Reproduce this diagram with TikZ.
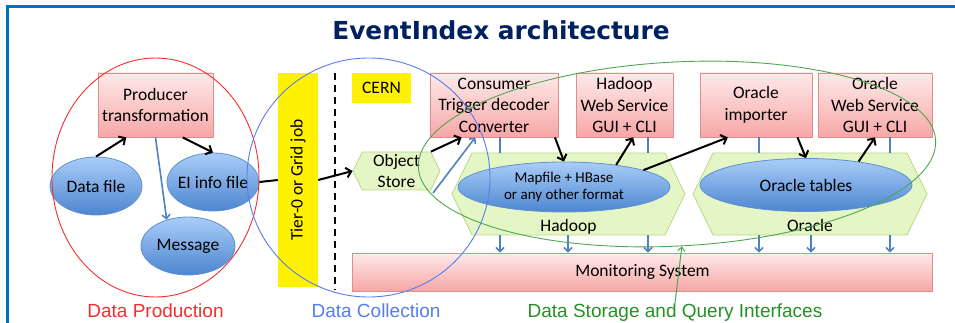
\documentclass[tikz,border=0pt]{standalone}
\usepackage{fontspec}
\setmainfont{Carlito}
\newfontfamily\arialfont{Liberation Sans}
\newfontfamily\titlefont{DejaVu Sans}
\usetikzlibrary{arrows.meta,shapes.geometric,shapes.symbols}
\definecolor{framecol}{RGB}{0,112,192}
\definecolor{titlenavy}{RGB}{0,32,96}
\definecolor{pinktop}{RGB}{255,234,234}
\definecolor{pinkbot}{RGB}{247,166,166}
\definecolor{pinkline}{RGB}{222,140,140}
\definecolor{bluetop}{RGB}{170,205,248}
\definecolor{bluebot}{RGB}{76,134,208}
\definecolor{blueline}{RGB}{95,145,205}
\definecolor{hexfill}{RGB}{228,246,198}
\definecolor{hexline}{RGB}{185,214,135}
\definecolor{steel}{RGB}{79,129,189}
\definecolor{prodred}{RGB}{245,45,45}
\definecolor{collblue}{RGB}{85,125,240}
\definecolor{storgreen}{RGB}{35,145,35}

\begin{document}
\begin{tikzpicture}[x=1pt,y=-1pt,
    every node/.style={font=\fontsize{17.5}{21.5}\selectfont,inner sep=0pt,align=center},
    pbox/.style={draw=pinkline,line width=0.8,top color=pinktop,bottom color=pinkbot,minimum height=64},
    bubble/.style={ellipse,draw=blueline,line width=0.8,top color=bluetop,bottom color=bluebot,inner xsep=-5pt},
    hexa/.style={signal,signal to=west and east,signal pointer angle=128,draw=hexline,line width=0.8,fill=hexfill},
    ybox/.style={fill=yellow},
    group/.style={ellipse,draw,line width=0.9},
    grouplbl/.style={font=\arialfont\fontsize{19}{22}\selectfont,anchor=base},
    arr/.style={line width=2,-{Straight Barb[length=5pt,width=10pt]}},
    link/.style={steel,line width=1.6},
    downarr/.style={link,-{Straight Barb[length=4pt,width=8pt]}}]
  \useasboundingbox (0,0) rectangle (955,323);
  \draw[framecol,line width=3] (7,330) -- (7,7) -- (960,7);
  \node[font=\titlefont\bfseries\fontsize{24.8}{30}\selectfont,text=titlenavy,anchor=base] (title) at (501,40) {EventIndex architecture};

  \node[pbox,minimum width=115] (producer) at (155.5,105) {Producer\\transformation};
  \node[bubble,minimum width=92,minimum height=58] (dfile) at (96,186) {Data file};
  \node[bubble,minimum width=92,minimum height=58] (eifile) at (213,182) {EI info file};
  \node[bubble,minimum width=94,minimum height=58] (message) at (188,246) {Message};

  \node[ybox,minimum width=40,minimum height=214] (tier) at (298,180) {};
  \node[rotate=90] (tierlbl) at (tier.center) {Tier-0 or Grid job};
  \coordinate (septop) at (335,73);
  \coordinate (sepbot) at (335,290);
  \draw[line width=2,dash pattern=on 7pt off 5pt] (septop) -- (sepbot);
  \node[ybox,minimum width=59,minimum height=30] (cern) at (381.5,88) {CERN};
  \node[hexa,minimum width=87,minimum height=38] (objstore) at (396.5,171) {Object\\Store};

  \node[pbox,minimum width=128] (consumer) at (494,105) {Consumer\\Trigger decoder\\Converter};
  \node[pbox,minimum width=97] (hadoopws) at (624.5,105) {Hadoop\\Web Service\\GUI + CLI};
  \node[pbox,minimum width=112] (oimport) at (756,105) {Oracle\\importer};
  \node[pbox,minimum width=114] (oraclews) at (875,105) {Oracle\\Web Service\\GUI + CLI};

  \node[hexa,minimum width=233,minimum height=82] (hadoop) at (568.5,194) {};
  \node[anchor=base] (hadooplbl) at (568.5,231) {Hadoop};
  \node[hexa,minimum width=234,minimum height=82] (oracle) at (810,194) {};
  \node[anchor=base] (oraclelbl) at (810,231) {Oracle};
  \node[bubble,minimum width=212,minimum height=50,font=\fontsize{15}{17.5}\selectfont] (mapfile) at (564,187) {Mapfile + HBase\\or any other format};
  \node[bubble,minimum width=212,minimum height=53] (otables) at (806,185) {Oracle tables};
  \node[pbox,minimum width=580,minimum height=38] (monitor) at (642.5,272) {Monitoring System};

  \draw[arr] (dfile.north) -- (producer.228);
  \draw[arr] (producer.-50) -- (eifile.north);
  \draw[downarr] (producer.south) -- (message.129);
  \draw[line width=2] (eifile.east) -- (tier.west);
  \draw[arr] (tier.east) -- (objstore.west);
  \draw[arr] (objstore.north east) -- (consumer.225);
  \coordinate (gridin) at (433,193);
  \draw[downarr] (gridin) -- (consumer.240);
  \draw[arr] (consumer.-28) -- (mapfile.north);
  \draw[arr] (mapfile.23) -- (hadoopws.-75);
  \draw[arr] (mapfile.12) -- (oimport.229);
  \draw[arr] (oimport.-38) -- (otables.north);
  \draw[arr] (otables.24) -- (oraclews.south);
  \foreach \x/\a/\b in {500/consumer/hadoop,648/hadoopws/hadoop,759/oimport/oracle,890/oraclews/oracle}
    \draw[link] (\x,0 |- \a.south) -- (\x,0 |- \b.north);
  \foreach \x/\a in {500/hadoop,568/hadoop,648/hadoop,759/oracle,811/oracle,890/oracle}
    \draw[downarr] (\x,0 |- \a.south) -- (\x,0 |- monitor.north);

  \node[group,draw=prodred,minimum width=207,minimum height=239] (prodgrp) at (155.5,177.5) {};
  \node[group,draw=collblue,minimum width=243,minimum height=239] (collgrp) at (368.5,177.5) {};
  \node[group,draw=storgreen!80,minimum width=518,minimum height=184,rotate=3] (storgrp) at (677,154) {};
  \node[grouplbl,text=prodred] (prodlbl) at (155.5,317) {Data Production};
  \node[grouplbl,text=collblue] (colllbl) at (376,317) {Data Collection};
  \node[grouplbl,text=storgreen] (storlbl) at (675,317) {Data Storage and Query Interfaces};
  \draw[storgreen!80,line width=1,-{Straight Barb[length=4pt,width=7pt]}] (storlbl.north) -- (storgrp.south);
\end{tikzpicture}
\end{document}
